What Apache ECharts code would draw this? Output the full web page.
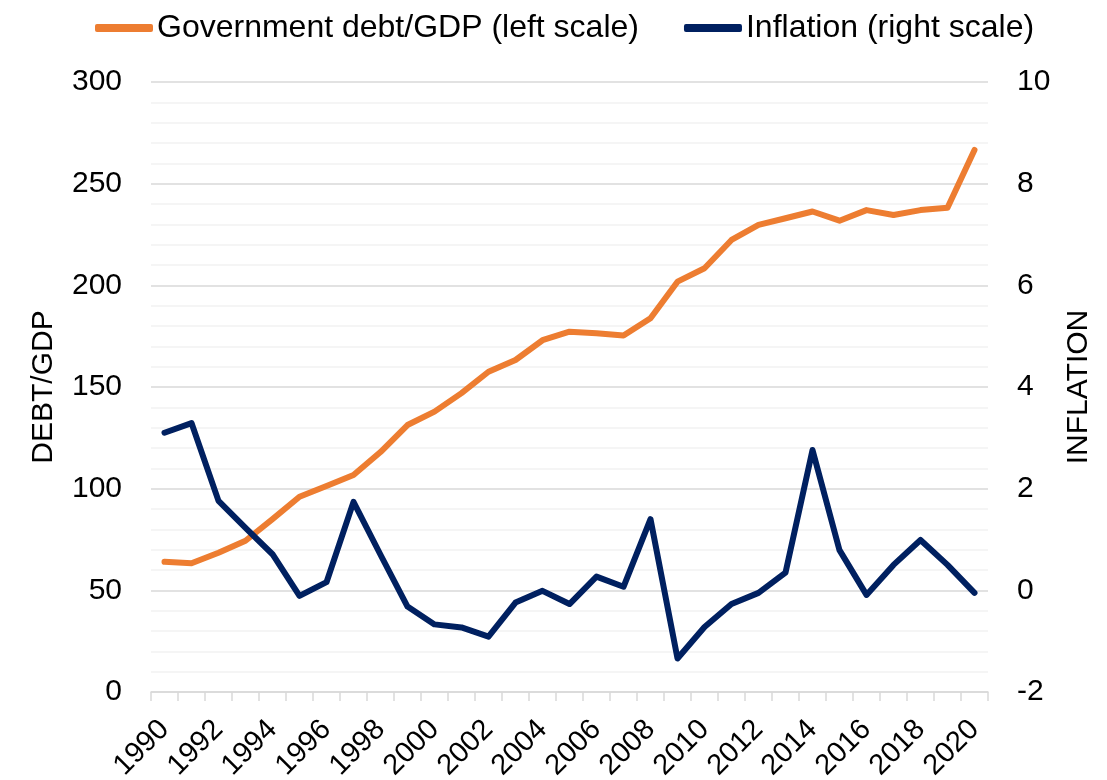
<!DOCTYPE html>
<html>
<head>
<meta charset="utf-8">
<script src="https://cdn.jsdelivr.net/npm/echarts@6/dist/echarts.min.js"></script>
<style>
html,body{margin:0;padding:0;background:#fff;}
#chart{width:1107px;height:780px;}
</style>
</head>
<body>
<div id="chart"></div>
<script>
const years = ['1990','1991','1992','1993','1994','1995','1996','1997','1998','1999','2000','2001','2002','2003','2004','2005','2006','2007','2008','2009','2010','2011','2012','2013','2014','2015','2016','2017','2018','2019','2020'];
const debtGdp = [64,63.3,68.5,74.4,85,96,101.3,106.7,118,131.3,137.9,147,157.5,163.3,173,177.2,176.4,175.3,183.8,201.8,208.4,222.3,229.7,233,236.3,231.8,237,234.6,237,238.2,266.6];
const inflation = [3.1,3.29,1.76,1.23,0.71,-0.11,0.16,1.74,0.70,-0.32,-0.67,-0.73,-0.91,-0.24,-0.01,-0.27,0.27,0.07,1.40,-1.34,-0.72,-0.27,-0.05,0.35,2.76,0.79,-0.09,0.50,0.99,0.50,-0.05];
const seriesNames = ['Government debt/GDP (left scale)','Inflation (right scale)'];
const axisNames = ['DEBT/GDP','INFLATION'];

const FONT = '"Liberation Sans", Arial, sans-serif';
const chart = echarts.init(document.getElementById('chart'), null, {renderer:'canvas'});
chart.setOption({
  animation:false,
  backgroundColor:'#ffffff',
  textStyle:{fontFamily:FONT},
  legend:{
    top:7, left:90,
    itemWidth:58, itemHeight:8, itemGap:45,
    icon:'roundRect',
    textStyle:{fontSize:32, color:'#000', fontFamily:FONT, padding:[0,0,0,-1]},
    data:[
      {name:seriesNames[0], itemStyle:{color:'#ED7D31'}},
      {name:seriesNames[1], itemStyle:{color:'#002060'}}
    ]
  },
  grid:{left:151, right:119, top:82, bottom:88, containLabel:false, outerBoundsMode:'none'},
  xAxis:{
    type:'category', data:years, boundaryGap:true,
    axisLine:{show:true, lineStyle:{color:'#d9d9d9', width:1.5}},
    axisTick:{show:true, interval:0, length:9, lineStyle:{color:'#d9d9d9', width:1.5}},
    axisLabel:{interval:1, rotate:45, margin:33, fontSize:29, color:'#000', fontFamily:FONT},
    splitLine:{show:false}
  },
  yAxis:[
    {
      type:'value', min:0, max:300, interval:50,
      name:axisNames[0], nameLocation:'middle', nameGap:92, nameRotate:90,
      nameTextStyle:{fontSize:30, color:'#000', fontFamily:FONT},
      axisLine:{show:false}, axisTick:{show:false},
      axisLabel:{fontSize:30, color:'#000', margin:29, fontFamily:FONT},
      splitLine:{show:true, lineStyle:{color:'#d9d9d9', width:1.5}},
      minorTick:{show:false, splitNumber:5},
      minorSplitLine:{show:true, lineStyle:{color:'#f2f2f2', width:1.5}}
    },
    {
      type:'value', min:-2, max:10, interval:2,
      name:axisNames[1], nameLocation:'middle', nameGap:76, nameRotate:90,
      nameTextStyle:{fontSize:30, color:'#000', fontFamily:FONT},
      axisLine:{show:false}, axisTick:{show:false},
      axisLabel:{fontSize:30, color:'#000', margin:29, fontFamily:FONT},
      splitLine:{show:false}
    }
  ],
  series:[
    {
      name:seriesNames[0], type:'line', yAxisIndex:0, data:debtGdp,
      symbol:'none', smooth:false,
      lineStyle:{color:'#ED7D31', width:6, cap:'round', join:'round'},
      itemStyle:{color:'#ED7D31'}
    },
    {
      name:seriesNames[1], type:'line', yAxisIndex:1, data:inflation,
      symbol:'none', smooth:false,
      lineStyle:{color:'#002060', width:6, cap:'round', join:'round'},
      itemStyle:{color:'#002060'}
    }
  ]
});
</script>
</body>
</html>
